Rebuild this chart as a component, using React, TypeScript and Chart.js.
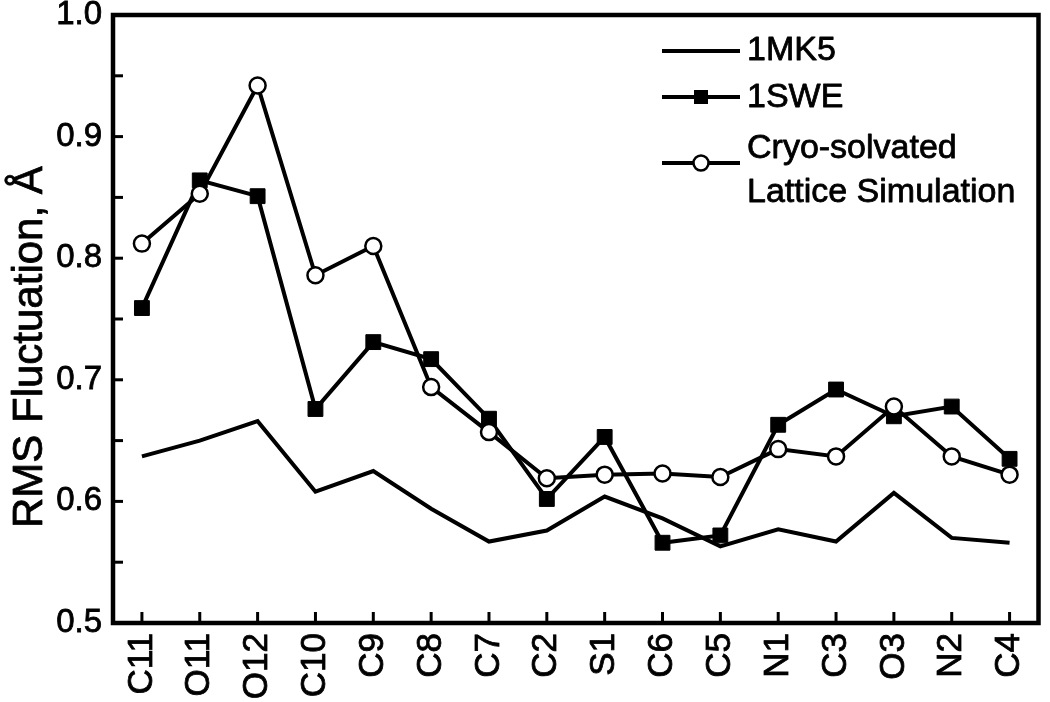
import React, { useEffect, useRef } from "react";
import { Chart, registerables } from "chart.js";

Chart.register(...registerables);

const categories = ["C11", "O11", "O12", "C10", "C9", "C8", "C7", "C2", "S1", "C6", "C5", "N1", "C3", "O3", "N2", "C4"];
const mk5 = [0.637, 0.650, 0.666, 0.608, 0.625, 0.594, 0.567, 0.576, 0.604, 0.586, 0.563, 0.577, 0.567, 0.607, 0.570, 0.566];
const swe = [0.759, 0.864, 0.851, 0.676, 0.731, 0.717, 0.668, 0.602, 0.653, 0.566, 0.572, 0.663, 0.692, 0.670, 0.678, 0.635];
const cryo = [0.812, 0.853, 0.942, 0.786, 0.810, 0.694, 0.657, 0.619, 0.622, 0.623, 0.620, 0.643, 0.637, 0.678, 0.637, 0.622];
const yTickLabels = [0.5, 0.6, 0.7, 0.8, 0.9, 1.0];
const seriesNames = ["1MK5", "1SWE", "Cryo-solvated Lattice Simulation"];
const cryoLegendLines = ["Cryo-solvated", "Lattice Simulation"];
const yTitle = "RMS Fluctuation, Å";

const FONT = "'Liberation Sans', Arial, Helvetica, sans-serif";

function boldText(ctx: any, s: string, x: number, y: number, w: number) {
  ctx.lineWidth = w;
  ctx.lineJoin = "round";
  ctx.strokeText(s, x, y);
  ctx.fillText(s, x, y);
}

const framePlugin = {
  id: "framePlugin",
  afterDraw(chart: any) {
    const { ctx, chartArea: a } = chart;
    const xs = chart.scales.x;
    const ys = chart.scales.y;
    ctx.save();
    ctx.strokeStyle = "#000";
    // inward ticks
    ctx.lineWidth = 3;
    ys.ticks.forEach((t: any) => {
      const y = ys.getPixelForValue(t.value);
      ctx.beginPath();
      ctx.moveTo(a.left, y);
      ctx.lineTo(a.left + 10, y);
      ctx.stroke();
    });
    categories.forEach((_, i) => {
      const x = xs.getPixelForValue(i);
      ctx.beginPath();
      ctx.moveTo(x, a.bottom);
      ctx.lineTo(x, a.bottom - 11);
      ctx.stroke();
    });
    // frame
    ctx.lineWidth = 4.5;
    ctx.strokeRect(a.left, a.top, a.right - a.left, a.bottom - a.top);

    // y title
    ctx.fillStyle = "#000";
    ctx.font = `42px ${FONT}`;
    ctx.textAlign = "left";
    ctx.textBaseline = "alphabetic";
    ctx.save();
    ctx.translate(42, 528);
    ctx.rotate(-Math.PI / 2);
    boldText(ctx, yTitle, 0, 0, 0.8);
    ctx.restore();

    // legend
    const lx0 = 662, lx1 = 740, mx = 701, tx = 747;
    ctx.lineWidth = 4;
    const rows = [51, 97, 163];
    rows.forEach((y) => {
      ctx.beginPath();
      ctx.moveTo(lx0, y);
      ctx.lineTo(lx1, y);
      ctx.stroke();
    });
    ctx.fillStyle = "#000";
    ctx.fillRect(mx - 7, rows[1] - 7, 14, 14);
    ctx.beginPath();
    ctx.arc(mx, rows[2], 7.5, 0, Math.PI * 2);
    ctx.fillStyle = "#fff";
    ctx.fill();
    ctx.lineWidth = 2.5;
    ctx.stroke();
    ctx.fillStyle = "#000";
    ctx.font = `34px ${FONT}`;
    boldText(ctx, seriesNames[0], tx, 60, 0.8);
    boldText(ctx, seriesNames[1], tx, 107, 0.8);
    boldText(ctx, cryoLegendLines[0], tx, 158, 0.8);
    boldText(ctx, cryoLegendLines[1], tx, 202, 0.8);
    ctx.restore();
  },
};

export default function App() {
  const ref = useRef<HTMLCanvasElement | null>(null);
  useEffect(() => {
    if (!ref.current) return;
    const chart = new Chart(ref.current, {
      type: "line",
      data: {
        labels: categories,
        datasets: [
          {
            label: seriesNames[0],
            data: mk5,
            borderColor: "#000",
            borderWidth: 4,
            pointRadius: 0,
            tension: 0,
            order: 3,
          },
          {
            label: seriesNames[1],
            data: swe,
            borderColor: "#000",
            borderWidth: 4,
            pointStyle: "rect",
            pointRadius: 10.5,
            pointBackgroundColor: "#000",
            pointBorderColor: "#000",
            pointBorderWidth: 1,
            tension: 0,
            order: 2,
          },
          {
            label: seriesNames[2],
            data: cryo,
            borderColor: "#000",
            borderWidth: 4,
            pointStyle: "circle",
            pointRadius: 8,
            pointBackgroundColor: "#fff",
            pointBorderColor: "#000",
            pointBorderWidth: 2.5,
            tension: 0,
            order: 1,
          },
        ],
      },
      options: {
        animation: false,
        responsive: true,
        maintainAspectRatio: false,
        events: [],
        layout: { padding: { top: 15, right: 8, left: 0, bottom: 0 } },
        plugins: {
          legend: { display: false },
          tooltip: { enabled: false },
        },
        scales: {
          x: {
            type: "category",
            offset: true,
            grid: { display: false, drawTicks: false },
            border: { display: false },
            ticks: {
              autoSkip: false,
              maxRotation: 90,
              minRotation: 90,
              padding: 10,
              color: "#000",
              textStrokeColor: "#000",
              textStrokeWidth: 0.8,
              font: { family: FONT, size: 35 },
            },
            afterFit: (s: any) => {
              s.height = 79;
              s.paddingLeft = 0;
              s.paddingRight = 0;
            },
          },
          y: {
            min: 0.5,
            max: 1.0,
            grid: { display: false, drawTicks: false },
            border: { display: false },
            ticks: {
              stepSize: 0.05,
              padding: 11,
              color: "#000",
              textStrokeColor: "#000",
              textStrokeWidth: 0.8,
              font: { family: FONT, size: 33 },
              callback: (v: any) => {
                const n = Number(v);
                const m = yTickLabels.find((t) => Math.abs(t - n) < 1e-6);
                return m !== undefined ? m.toFixed(1) : "";
              },
            },
            afterFit: (s: any) => {
              s.width = 113;
              s.paddingTop = 0;
              s.paddingBottom = 0;
            },
          },
        },
      },
      plugins: [framePlugin],
    });
    return () => chart.destroy();
  }, []);
  return (
    <div style={{ position: "absolute", left: 0, top: 0, width: 1050, height: 702, background: "#fff" }}>
      <canvas ref={ref} />
    </div>
  );
}
